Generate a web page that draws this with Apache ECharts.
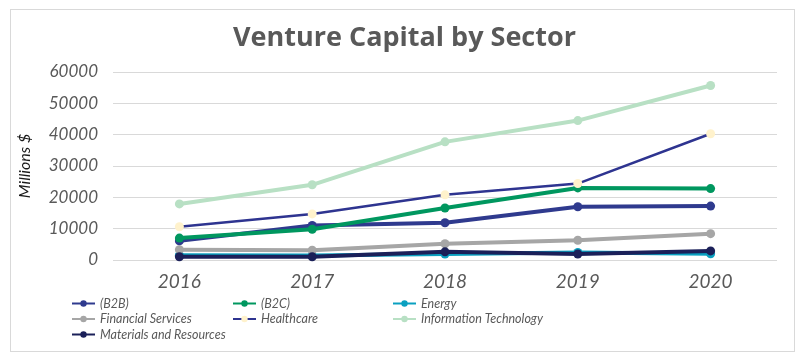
<!DOCTYPE html>
<html>
<head>
<meta charset="utf-8">
<script src="https://cdn.jsdelivr.net/npm/echarts@6/dist/echarts.min.js"></script>
<style>
html,body{margin:0;padding:0;background:#fff;}
#frame{position:absolute;left:10px;top:9px;width:785px;height:343px;border:1px solid #D9D9D9;box-sizing:border-box;}
#chart{position:absolute;left:0;top:0;width:811px;height:361px;}
</style>
</head>
<body>
<div id="frame"></div>
<div id="chart"></div>
<script>
const years = ['2016', '2017', '2018', '2019', '2020'];
const yTicks = [0, 10000, 20000, 30000, 40000, 50000, 60000];
const seriesNames = ['(B2B)', '(B2C)', 'Energy', 'Financial Services', 'Healthcare', 'Information Technology', 'Materials and Resources'];
const b2b = [6100, 11000, 11900, 17000, 17200];
const b2c = [7000, 9800, 16600, 23000, 22800];
const energy = [1500, 1400, 1900, 2400, 2000];
const financial = [3300, 3100, 5200, 6300, 8400];
const healthcare = [10600, 14700, 20800, 24400, 40300];
const infoTech = [17900, 24000, 37700, 44500, 55700];
const materials = [1050, 1050, 2600, 1900, 2900];

const values = [b2b, b2c, energy, financial, healthcare, infoTech, materials];
const lineColors = ['#2F3A8E', '#00975F', '#0AA0C0', '#A6A6A6', '#2E3490', '#B8E0C4', '#1B2059'];
const markerColors = ['#2F3A8E', '#00975F', '#0AA0C0', '#A6A6A6', '#FFF2CC', '#B8E0C4', '#1B2059'];
const widths = [4, 4, 4, 4, 2.5, 4, 4];

const chart = echarts.init(document.getElementById('chart'), null, {renderer: 'canvas'});
const textColor = '#595959';
const legendText = {color: textColor, fontSize: 12.5, fontStyle: 'italic', fontFamily: 'Lato'};
function legend(left, names) {
  return {
    left: left, top: 292, orient: 'vertical', itemGap: 2.5,
    itemWidth: 23, itemHeight: 8, data: names, textStyle: legendText,
    selectedMode: false
  };
}
chart.setOption({
  animation: false,
  title: {
    text: 'Venture Capital by Sector', left: 228, top: 20,
    textStyle: {color: textColor, fontSize: 27, fontWeight: 'bold', fontFamily: 'Open Sans'}
  },
  grid: {left: 113, right: 34, top: 72, bottom: 101},
  legend: [
    legend(66, [seriesNames[0], seriesNames[3], seriesNames[6]]),
    legend(227, [seriesNames[1], seriesNames[4]]),
    legend(387, [seriesNames[2], seriesNames[5]])
  ],
  xAxis: {
    type: 'category', data: years, boundaryGap: true,
    axisLine: {show: false}, axisTick: {show: false},
    axisLabel: {color: textColor, fontSize: 19, fontStyle: 'italic', fontFamily: 'Lato', margin: 12}
  },
  yAxis: {
    type: 'value', min: yTicks[0], max: yTicks[yTicks.length - 1], interval: 10000,
    name: 'Millions $', nameLocation: 'middle', nameGap: 80, nameRotate: 90,
    nameTextStyle: {color: '#1a1a1a', fontSize: 16, fontStyle: 'italic', fontFamily: 'Lato'},
    axisLine: {show: false}, axisTick: {show: false},
    axisLabel: {color: textColor, fontSize: 17, fontStyle: 'italic', fontFamily: 'Lato', margin: 15,
      formatter: v => String(v)},
    splitLine: {lineStyle: {color: '#D9D9D9', width: 1}}
  },
  series: seriesNames.map((n, i) => ({
    name: n, type: 'line', data: values[i],
    symbol: 'circle', symbolSize: 9, showSymbol: true,
    lineStyle: {color: lineColors[i], width: widths[i]},
    itemStyle: {color: markerColors[i], borderWidth: 0},
    z: 2 + i
  }))
});
</script>
</body>
</html>
